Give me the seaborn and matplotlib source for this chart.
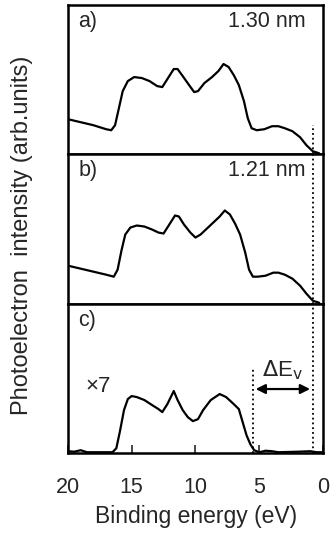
import matplotlib
matplotlib.use("Agg")
import matplotlib.pyplot as plt
import seaborn as sns
import pandas as pd

# binding energy (eV) and intensity (arb. units)
energy_a = [20, 19, 18, 17, 16.6, 16.3, 16.0, 15.7, 15.3, 14.8, 14.2, 13.6, 13.0, 12.6,
            12.2, 11.7, 11.4, 11.0, 10.5, 10.1, 9.8, 9.3, 8.7, 8.2, 7.8, 7.4, 7.0, 6.6,
            6.2, 5.9, 5.6, 5.2, 4.6, 4.0, 3.5, 3.0, 2.4, 1.8, 1.3, 0.8, 0.3]
intens_a = [34, 31, 28, 24, 23, 28, 45, 62, 72, 76, 75, 72, 67, 66,
            74, 84, 84, 77, 68, 61, 62, 70, 76, 82, 89, 86, 78, 68,
            52, 35, 25, 23, 24, 27, 27, 25, 22, 16, 8, 2, 0]

energy_b = [20, 19, 18, 17, 16.4, 16.1, 15.8, 15.5, 15.1, 14.6, 14.0, 13.4, 12.9, 12.5,
            12.1, 11.6, 11.3, 10.9, 10.4, 10.0, 9.6, 9.1, 8.6, 8.1, 7.7, 7.3, 6.9, 6.5,
            6.1, 5.8, 5.5, 5.1, 4.5, 3.9, 3.5, 3.0, 2.4, 1.8, 1.3, 0.8, 0.3]
intens_b = [37, 34, 31, 28, 26, 33, 52, 68, 75, 77, 76, 73, 70, 69,
            77, 87, 86, 78, 70, 65, 68, 74, 80, 86, 92, 88, 79, 68,
            50, 33, 26, 26, 27, 30, 30, 28, 24, 17, 9, 2, 0]

energy_c = [20, 19.5, 19, 18.5, 17.5, 16.5, 16.2, 15.9, 15.6, 15.3, 15.0, 14.6, 14.0, 13.4,
            12.9, 12.6, 12.2, 11.7, 11.4, 11.0, 10.6, 10.2, 9.8, 9.4, 8.8, 8.1, 7.6, 7.0,
            6.6, 6.3, 6.0, 5.7, 5.4, 5.0, 4.5, 4.0, 3.5, 2.0, 1.0, 0.5, 0]
intens_c = [1, 0.5, 2, 0, 0, 0, 4, 22, 42, 53, 56, 55, 52, 47,
            43, 40, 48, 61, 52, 42, 35, 31, 33, 42, 52, 58, 55, 48,
            43, 30, 17, 8, 2, 0, 1.5, 1, 0, 0.5, 1, 0, 0]

panel_tags = ["a)", "b)", "c)"]
sizes = ["1.30 nm", "1.21 nm", ""]
vbm_edge = 0.8
vbm_c = 5.5

sns.set_theme(style="white")
plt.rcParams["font.family"] = ["Liberation Sans", "DejaVu Sans"]

fig = plt.figure(figsize=(3.31, 5.37), dpi=100)
gs = fig.add_gridspec(3, 1, left=0.205, right=0.976, top=0.991, bottom=0.156, hspace=0)
axes = [fig.add_subplot(gs[i]) for i in range(3)]

series = [(energy_a, intens_a), (energy_b, intens_b), (energy_c, intens_c)]
for i, ax in enumerate(axes):
    df = pd.DataFrame({"E": series[i][0], "I": series[i][1]})
    sns.lineplot(data=df, x="E", y="I", ax=ax, color="black", lw=1.6, sort=False)
    ax.set_xlim(20, 0)
    ax.set_ylim(-1, 148)
    ax.set_yticks([])
    ax.set_xlabel("")
    ax.set_ylabel("")
    for s in ax.spines.values():
        s.set_color("black")
        s.set_linewidth(1.8)
    ax.text(0.04, 0.96, panel_tags[i], transform=ax.transAxes, ha="left", va="top", fontsize=15.5)
    if sizes[i]:
        ax.text(0.93, 0.96, sizes[i], transform=ax.transAxes, ha="right", va="top", fontsize=15.5)
    if i < 2:
        ax.set_xticks([])

# dotted lines marking the valence band edges
axes[0].plot([vbm_edge, vbm_edge], [-1, 28], color="black", ls=":", lw=1.3)
axes[1].plot([vbm_edge, vbm_edge], [-1, 148], color="black", ls=":", lw=1.3)
axes[2].plot([vbm_edge, vbm_edge], [-1, 148], color="black", ls=":", lw=1.3)
axes[2].plot([vbm_c, vbm_c], [-1, 83], color="black", ls=":", lw=1.3)

axes[2].annotate("", xy=(vbm_edge, 63), xytext=(vbm_c, 63),
                 arrowprops=dict(arrowstyle="<|-|>", color="black", lw=1.6, mutation_scale=14))
axes[2].text((vbm_c + vbm_edge) / 2, 70, r"$\Delta$E$_{\rm v}$", ha="center", va="bottom", fontsize=16)
axes[2].text(17.6, 66, "×7", ha="center", va="center", fontsize=16)

ax = axes[2]
ax.set_xticks([20, 15, 10, 5, 0])
ax.set_xticklabels(["20", "15", "10", "5", "0"], fontsize=15.5)
ax.tick_params(axis="x", direction="in", length=6, width=1.2, pad=17, bottom=True)

fig.text(0.592, 1 - 517 / 537, "Binding energy (eV)", ha="center", va="center", fontsize=16.5)
fig.text(0.066, 1 - 235 / 537, "Photoelectron  intensity (arb.units)", rotation=90,
         ha="center", va="center", fontsize=17)

fig.savefig("out.png", dpi=100)
